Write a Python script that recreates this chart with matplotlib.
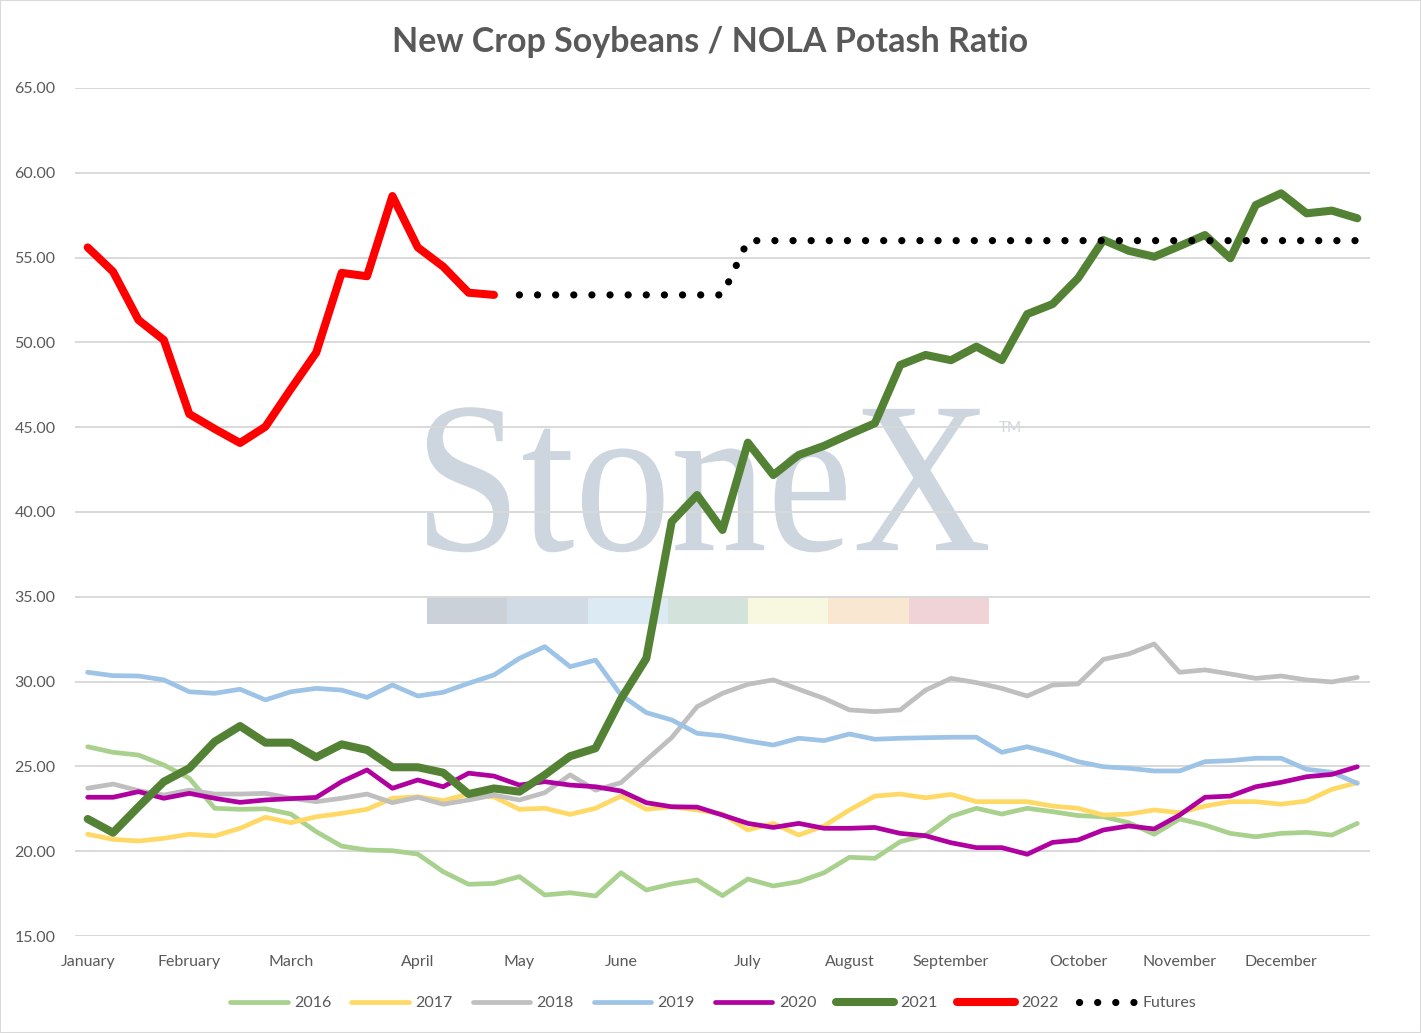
"""
New Crop Soybeans / NOLA Potash Ratio - weekly seasonal comparison chart.
"""

import numpy as np
import matplotlib
matplotlib.use("Agg")
import matplotlib.pyplot as plt
import matplotlib.ticker as ticker
from matplotlib.textpath import TextPath
from matplotlib.patches import PathPatch, Rectangle
from matplotlib.font_manager import FontProperties
from matplotlib.transforms import Affine2D

# ── data (weekly, 51 points Jan -> Dec) ─────────────────
MONTHS = ["January", "February", "March", "April", "May", "June", "July",
          "August", "September", "October", "November", "December"]
MONTH_WEEK = [0, 4, 8, 13, 17, 21, 26, 30, 34, 39, 43, 47]

Y2016 = [26.16, 25.83, 25.67, 25.08, 24.30, 22.53, 22.47, 22.50, 22.19, 21.15,
         20.30, 20.07, 20.03, 19.83, 18.79, 18.05, 18.10, 18.50, 17.42, 17.55,
         17.36, 18.73, 17.71, 18.07, 18.30, 17.38, 18.36, 17.95, 18.20, 18.73,
         19.64, 19.58, 20.56, 20.95, 22.05, 22.53, 22.19, 22.53, 22.33, 22.10,
         22.03, 21.68, 21.00, 21.90, 21.54, 21.05, 20.85, 21.05, 21.11, 20.95,
         21.64]
Y2017 = [21.00, 20.70, 20.60, 20.76, 21.00, 20.90, 21.35, 22.00, 21.68, 22.03,
         22.23, 22.47, 23.12, 23.21, 22.98, 23.37, 23.20, 22.47, 22.53, 22.17,
         22.53, 23.25, 22.47, 22.62, 22.43, 22.19, 21.25, 21.64, 20.95, 21.49,
         22.43, 23.25, 23.37, 23.15, 23.35, 22.92, 22.92, 22.92, 22.66, 22.53,
         22.13, 22.19, 22.43, 22.27, 22.66, 22.92, 22.92, 22.77, 22.96, 23.65,
         24.04]
Y2018 = [23.71, 23.96, 23.57, 23.31, 23.60, 23.37, 23.37, 23.41, 23.12, 22.92,
         23.12, 23.37, 22.86, 23.18, 22.77, 23.02, 23.31, 23.02, 23.45, 24.50,
         23.60, 24.04, 25.38, 26.70, 28.52, 29.31, 29.84, 30.10, 29.55, 29.01,
         28.33, 28.23, 28.33, 29.50, 30.19, 29.94, 29.60, 29.15, 29.80, 29.86,
         31.31, 31.63, 32.22, 30.55, 30.69, 30.45, 30.19, 30.33, 30.10, 29.98,
         30.25]
Y2019 = [30.55, 30.35, 30.33, 30.10, 29.40, 29.31, 29.55, 28.92, 29.40, 29.60,
         29.50, 29.07, 29.80, 29.15, 29.37, 29.90, 30.39, 31.37, 32.06, 30.88,
         31.27, 29.21, 28.17, 27.74, 26.95, 26.80, 26.50, 26.26, 26.66, 26.52,
         26.91, 26.60, 26.66, 26.69, 26.72, 26.72, 25.83, 26.16, 25.77, 25.28,
         24.98, 24.89, 24.73, 24.73, 25.28, 25.34, 25.48, 25.48, 24.83, 24.65,
         24.00]
Y2020 = [23.18, 23.18, 23.51, 23.12, 23.41, 23.12, 22.88, 23.02, 23.10, 23.17,
         24.10, 24.79, 23.71, 24.20, 23.80, 24.60, 24.43, 23.90, 24.10, 23.90,
         23.80, 23.55, 22.86, 22.62, 22.60, 22.13, 21.64, 21.40, 21.64, 21.35,
         21.35, 21.40, 21.05, 20.91, 20.50, 20.21, 20.21, 19.82, 20.52, 20.66,
         21.25, 21.49, 21.31, 22.13, 23.18, 23.25, 23.80, 24.06, 24.39, 24.53,
         24.98]
Y2021 = [21.90, 21.09, 22.62, 24.10, 24.89, 26.46, 27.38, 26.40, 26.40, 25.54,
         26.30, 25.97, 24.95, 24.95, 24.63, 23.37, 23.70, 23.51, 24.50, 25.60,
         26.07, 28.97, 31.37, 39.43, 41.00, 38.94, 44.09, 42.18, 43.36, 43.90,
         44.58, 45.23, 48.67, 49.26, 48.95, 49.75, 48.96, 51.67, 52.26, 53.78,
         56.04, 55.40, 55.05, 55.68, 56.33, 54.96, 58.10, 58.79, 57.61, 57.77,
         57.32]
Y2022 = [55.60, 54.17, 51.32, 50.14, 45.78, 44.90, 44.07, 45.03, 47.25, 49.40,
         54.10, 53.90, 58.63, 55.60, 54.47, 52.93, 52.80]
FUTURES_START = 17
FUTURES = [52.8, 52.8, 52.8, 52.8, 52.8, 52.8, 52.8, 52.8, 52.8,
           56.0, 56.0, 56.0, 56.0, 56.0, 56.0, 56.0, 56.0, 56.0, 56.0,
           56.0, 56.0, 56.0, 56.0, 56.0, 56.0, 56.0, 56.0, 56.0, 56.0,
           56.0, 56.0, 56.0, 56.0, 56.0]

# ── style ───────────────────────────────────────────────
TEXT = "#595959"
GRID = "#D9D9D9"
plt.rcParams.update({
    "font.family": ["Lato", "DejaVu Sans"],
    "text.color": TEXT,
    "xtick.color": TEXT,
    "ytick.color": TEXT,
})

fig = plt.figure(figsize=(14.21, 10.33), dpi=100)
W, H = 1421, 1033
ax = fig.add_axes([75 / W, 1 - 936 / H, 1295 / W, 848 / H])

# ── watermark ──────────────────────────────────────────
WM = "#CDD5DF"
tp = TextPath((0, 0), "StoneX", size=1,
              prop=FontProperties(family=["Liberation Serif", "DejaVu Serif"]))
bb = tp.get_extents()
x0, x1, y0, y1 = 0.2718, 0.7050, 0.4525, 0.6235
tr = (Affine2D().translate(-bb.x0, -bb.y0)
      .scale((x1 - x0) / bb.width, (y1 - y0) / bb.height)
      .translate(x0, y0) + ax.transAxes)
ax.add_patch(PathPatch(tp, transform=tr, facecolor=WM, edgecolor="none", zorder=0))
ax.text(0.722, 0.599, "TM", transform=ax.transAxes, fontsize=11,
        color=WM, ha="center", va="center", zorder=0)
STRIP = ["#CBD1D9", "#D0DBE6", "#DCEAF4", "#D3E2DA", "#F8F8E0", "#F9E7D2", "#F0D3D6"]
sw = (0.7058 - 0.2718) / len(STRIP)
for k, c in enumerate(STRIP):
    ax.add_patch(Rectangle((0.2718 + k * sw, 0.368), sw, 0.0306,
                           transform=ax.transAxes, facecolor=c,
                           edgecolor="none", zorder=0))

# ── series ─────────────────────────────────────────────
weeks = np.arange(len(Y2016))
thin = dict(linewidth=3.4, solid_capstyle="round", solid_joinstyle="round", zorder=3)
thick = dict(linewidth=5.8, solid_capstyle="round", solid_joinstyle="round", zorder=3)

ax.plot(weeks, Y2016, color="#A9D18E", label="2016", **thin)
ax.plot(weeks, Y2017, color="#FFD966", label="2017", **thin)
ax.plot(weeks, Y2018, color="#BFBFBF", label="2018", **thin)
ax.plot(weeks, Y2019, color="#9DC3E6", label="2019", **thin)
ax.plot(weeks, Y2020, color="#B000A0", label="2020", **thin)
ax.plot(weeks, Y2021, color="#548235", label="2021", **thick)
ax.plot(weeks[:len(Y2022)], Y2022, color="#FF0000", label="2022", **thick)
fw = weeks[FUTURES_START:FUTURES_START + len(FUTURES)]
ax.plot(fw, FUTURES, color="black", linewidth=5.2,
        linestyle=(0, (0.01, 2.5)), dash_capstyle="round", zorder=3,
        label="Futures")

# ── axes ───────────────────────────────────────────────
ax.set_xlim(-0.5, len(weeks) - 0.5)
ax.set_ylim(15, 65)
ax.yaxis.set_major_locator(ticker.MultipleLocator(5))
ax.yaxis.set_major_formatter(ticker.FormatStrFormatter("%.2f"))
ax.set_xticks(MONTH_WEEK)
ax.set_xticklabels(MONTHS)
ax.tick_params(axis="both", length=0, labelsize=11.5)
ax.tick_params(axis="y", pad=14)
ax.tick_params(axis="x", pad=14)
ax.grid(True, axis="y", color=GRID, linewidth=1.4, zorder=1)
ax.set_axisbelow(False)
for s in ax.spines.values():
    s.set_visible(False)
for gl in ax.yaxis.get_gridlines():
    gl.set_zorder(1)

fig.text(0.5, 1 - 42 / H, "New Crop Soybeans / NOLA Potash Ratio",
         ha="center", va="center", fontsize=24.5, fontweight="bold", color=TEXT)

fig.legend(loc="center", bbox_to_anchor=(0.502, 1 - 1003 / H), ncol=8,
           frameon=False, fontsize=11.5, handlelength=3.6, handletextpad=0.4,
           columnspacing=1.25, labelcolor=TEXT)

fig.add_artist(Rectangle((0, 0), 1, 1, transform=fig.transFigure,
                         facecolor="none", edgecolor=GRID, linewidth=1.5))

fig.savefig("out.png", dpi=100, facecolor="white")
plt.close(fig)
